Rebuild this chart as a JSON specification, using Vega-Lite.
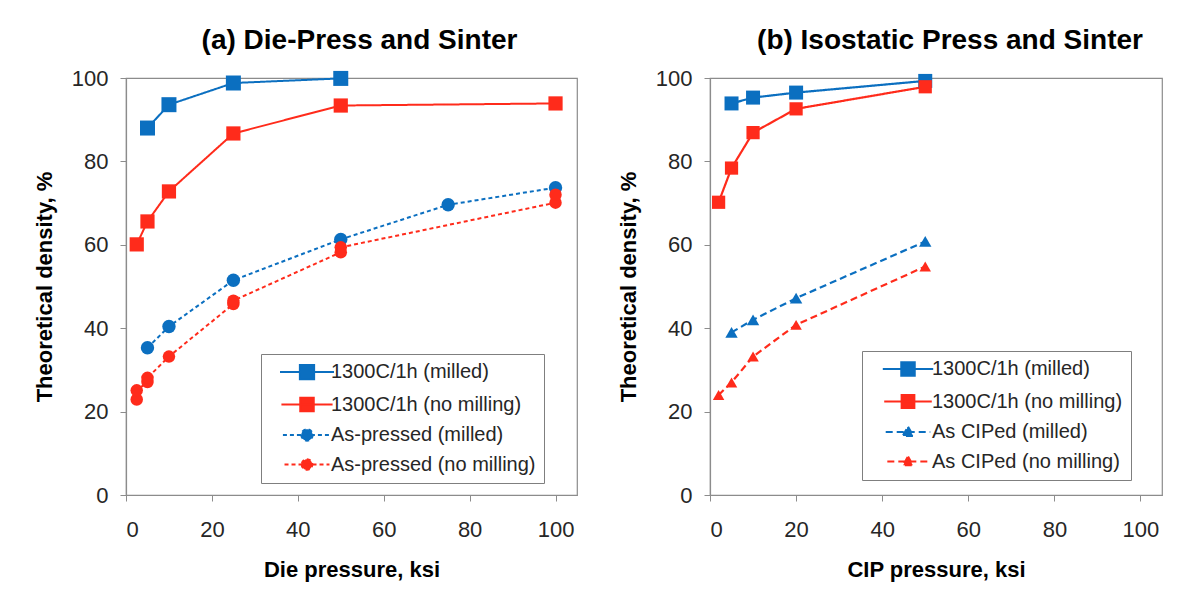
{
  "$schema": "https://vega.github.io/schema/vega-lite/v6.json",
  "background": "white",
  "padding": {"left": 32, "top": 26, "right": 5, "bottom": 5},
  "datasets": {
    "die": [
      {"series": "1300C/1h (milled)", "pressure": 5, "density": 88.0},
      {"series": "1300C/1h (milled)", "pressure": 10, "density": 93.6},
      {"series": "1300C/1h (milled)", "pressure": 25, "density": 98.8},
      {"series": "1300C/1h (milled)", "pressure": 50, "density": 99.9},
      {"series": "1300C/1h (no milling)", "pressure": 2.5, "density": 60.1},
      {"series": "1300C/1h (no milling)", "pressure": 5, "density": 65.6},
      {"series": "1300C/1h (no milling)", "pressure": 10, "density": 72.8},
      {"series": "1300C/1h (no milling)", "pressure": 25, "density": 86.7},
      {"series": "1300C/1h (no milling)", "pressure": 50, "density": 93.4},
      {"series": "1300C/1h (no milling)", "pressure": 100, "density": 93.9},
      {"series": "As-pressed (milled)", "pressure": 5, "density": 35.3},
      {"series": "As-pressed (milled)", "pressure": 10, "density": 40.4},
      {"series": "As-pressed (milled)", "pressure": 25, "density": 51.5},
      {"series": "As-pressed (milled)", "pressure": 50, "density": 61.3},
      {"series": "As-pressed (milled)", "pressure": 75, "density": 69.6},
      {"series": "As-pressed (milled)", "pressure": 100, "density": 73.7},
      {"series": "As-pressed (no milling)", "pressure": 2.5, "density": 22.9},
      {"series": "As-pressed (no milling)", "pressure": 2.5, "density": 25.1},
      {"series": "As-pressed (no milling)", "pressure": 5, "density": 27.1},
      {"series": "As-pressed (no milling)", "pressure": 5, "density": 28.1},
      {"series": "As-pressed (no milling)", "pressure": 10, "density": 33.2},
      {"series": "As-pressed (no milling)", "pressure": 25, "density": 45.8},
      {"series": "As-pressed (no milling)", "pressure": 25, "density": 46.6},
      {"series": "As-pressed (no milling)", "pressure": 50, "density": 58.2},
      {"series": "As-pressed (no milling)", "pressure": 50, "density": 59.4},
      {"series": "As-pressed (no milling)", "pressure": 100, "density": 70.1},
      {"series": "As-pressed (no milling)", "pressure": 100, "density": 72.0}
    ],
    "cip": [
      {"series": "1300C/1h (milled)", "pressure": 5, "density": 93.9},
      {"series": "1300C/1h (milled)", "pressure": 10, "density": 95.3},
      {"series": "1300C/1h (milled)", "pressure": 20, "density": 96.5},
      {"series": "1300C/1h (milled)", "pressure": 50, "density": 99.3},
      {"series": "1300C/1h (no milling)", "pressure": 2, "density": 70.2},
      {"series": "1300C/1h (no milling)", "pressure": 5, "density": 78.4},
      {"series": "1300C/1h (no milling)", "pressure": 10, "density": 86.9},
      {"series": "1300C/1h (no milling)", "pressure": 20, "density": 92.6},
      {"series": "1300C/1h (no milling)", "pressure": 50, "density": 97.9},
      {"series": "As CIPed (milled)", "pressure": 5, "density": 39.0},
      {"series": "As CIPed (milled)", "pressure": 10, "density": 42.0},
      {"series": "As CIPed (milled)", "pressure": 20, "density": 47.2},
      {"series": "As CIPed (milled)", "pressure": 50, "density": 60.8},
      {"series": "As CIPed (no milling)", "pressure": 2, "density": 24.0},
      {"series": "As CIPed (no milling)", "pressure": 5, "density": 27.0},
      {"series": "As CIPed (no milling)", "pressure": 10, "density": 33.2},
      {"series": "As CIPed (no milling)", "pressure": 20, "density": 40.8},
      {"series": "As CIPed (no milling)", "pressure": 50, "density": 54.8}
    ]
  },
  "config": {
    "font": "Liberation Sans",
    "view": {"stroke": "#8c8c8c", "strokeWidth": 1.2},
    "axis": {
      "grid": false,
      "domainColor": "#8c8c8c",
      "domainWidth": 1.2,
      "tickColor": "#8c8c8c",
      "tickSize": 6,
      "labelFont": "Liberation Sans",
      "labelFontSize": 22,
      "labelColor": "#262626",
      "titleFont": "Liberation Sans",
      "titleFontSize": 22,
      "titleFontWeight": "bold",
      "titleColor": "black"
    },
    "title": {"font": "Liberation Sans", "fontSize": 28, "fontWeight": "bold", "color": "black", "offset": 12},
    "legend": {
      "title": null,
      "padding": 8,
      "strokeColor": "#7f7f7f",
      "fillColor": "white",
      "labelFont": "Liberation Sans",
      "labelFontSize": 20,
      "labelColor": "#262626",
      "labelLimit": 400,
      "symbolSize": 144,
      "symbolStrokeWidth": 2,
      "symbolOpacity": 1,
      "symbolOffset": 28,
      "labelOffset": 14,
      "rowPadding": 9.5
    }
  },
  "spacing": 38,
  "hconcat": [
    {
      "width": 451,
      "height": 417,
      "title": {"text": "(a) Die-Press and Sinter", "dx": 8},
      "data": {"name": "die"},
      "encoding": {
        "x": {
          "field": "pressure", "type": "quantitative",
          "scale": {"domain": [0, 105], "nice": false},
          "axis": {"title": "Die pressure, ksi", "values": [0, 20, 40, 60, 80, 100], "labelPadding": 18, "titlePadding": 19}
        },
        "y": {
          "field": "density", "type": "quantitative",
          "scale": {"domain": [0, 100], "nice": false},
          "axis": {"title": "Theoretical density, %", "values": [0, 20, 40, 60, 80, 100], "labelPadding": 12, "titlePadding": 15}
        },
        "color": {
          "field": "series", "type": "nominal",
          "scale": {
            "domain": ["1300C/1h (milled)", "1300C/1h (no milling)", "As-pressed (milled)", "As-pressed (no milling)"],
            "range": ["#0B6FC0", "#FF2B1B", "#0B6FC0", "#FF2B1B"]
          },
          "legend": {"orient": "none", "legendX": 135, "legendY": 276}
        }
      },
      "layer": [
        {
          "mark": {"type": "line"},
          "encoding": {
            "order": [{"field": "pressure"}, {"field": "density"}],
            "strokeDash": {
              "field": "series", "type": "nominal",
              "scale": {
                "domain": ["1300C/1h (milled)", "1300C/1h (no milling)", "As-pressed (milled)", "As-pressed (no milling)"],
                "range": [[1, 0], [1, 0], [4, 3], [4, 3]]
              }
            },
            "strokeWidth": {
              "field": "series", "type": "nominal",
              "scale": {
                "domain": ["1300C/1h (milled)", "1300C/1h (no milling)", "As-pressed (milled)", "As-pressed (no milling)"],
                "range": [2, 2, 1.6, 1.6]
              },
              "legend": null
            }
          }
        },
        {
          "mark": {"type": "point", "filled": true, "opacity": 0},
          "encoding": {
            "shape": {
              "field": "series", "type": "nominal",
              "scale": {
                "domain": ["1300C/1h (milled)", "1300C/1h (no milling)", "As-pressed (milled)", "As-pressed (no milling)"],
                "range": [
                  "M-3.6,0H3.6M-0.95,-0.95H0.95V0.95H-0.95Z",
                  "M-3.6,0H3.6M-0.95,-0.95H0.95V0.95H-0.95Z",
                  "M-3.6,0H3.6M-0.85,0A0.85,0.85,0,1,0,0.85,0A0.85,0.85,0,1,0,-0.85,0Z",
                  "M-3.6,0H3.6M-0.85,0A0.85,0.85,0,1,0,0.85,0A0.85,0.85,0,1,0,-0.85,0Z"
                ]
              }
            }
          }
        },
        {
          "transform": [{"filter": {"field": "series", "oneOf": ["1300C/1h (milled)", "1300C/1h (no milling)"]}}],
          "mark": {"type": "point", "shape": "square", "filled": true, "opacity": 1},
          "encoding": {
            "size": {
              "field": "series", "type": "nominal",
              "scale": {
                "domain": ["1300C/1h (milled)", "1300C/1h (no milling)", "As-pressed (milled)", "As-pressed (no milling)"],
                "range": [225, 156, 100, 110]
              },
              "legend": null
            }
          }
        },
        {
          "transform": [{"filter": {"field": "series", "oneOf": ["As-pressed (milled)", "As-pressed (no milling)"]}}],
          "mark": {"type": "point", "shape": "circle", "filled": true, "opacity": 1},
          "encoding": {
            "size": {
              "field": "series", "type": "nominal",
              "scale": {
                "domain": ["1300C/1h (milled)", "1300C/1h (no milling)", "As-pressed (milled)", "As-pressed (no milling)"],
                "range": [225, 156, 100, 110]
              },
              "legend": null
            }
          }
        }
      ]
    },
    {
      "width": 452,
      "height": 417,
      "title": {"text": "(b) Isostatic Press and Sinter", "dx": 14},
      "data": {"name": "cip"},
      "encoding": {
        "x": {
          "field": "pressure", "type": "quantitative",
          "scale": {"domain": [0, 105], "nice": false},
          "axis": {"title": "CIP pressure, ksi", "values": [0, 20, 40, 60, 80, 100], "labelPadding": 18, "titlePadding": 19}
        },
        "y": {
          "field": "density", "type": "quantitative",
          "scale": {"domain": [0, 100], "nice": false},
          "axis": {"title": "Theoretical density, %", "values": [0, 20, 40, 60, 80, 100], "labelPadding": 12, "titlePadding": 15}
        },
        "color": {
          "field": "series", "type": "nominal",
          "scale": {
            "domain": ["1300C/1h (milled)", "1300C/1h (no milling)", "As CIPed (milled)", "As CIPed (no milling)"],
            "range": ["#0B6FC0", "#FF2B1B", "#0B6FC0", "#FF2B1B"]
          },
          "legend": {"orient": "none", "legendX": 152, "legendY": 273}
        }
      },
      "layer": [
        {
          "mark": {"type": "line"},
          "encoding": {
            "order": [{"field": "pressure"}, {"field": "density"}],
            "strokeDash": {
              "field": "series", "type": "nominal",
              "scale": {
                "domain": ["1300C/1h (milled)", "1300C/1h (no milling)", "As CIPed (milled)", "As CIPed (no milling)"],
                "range": [[1, 0], [1, 0], [7, 4], [7, 4]]
              }
            },
            "strokeWidth": {
              "field": "series", "type": "nominal",
              "scale": {
                "domain": ["1300C/1h (milled)", "1300C/1h (no milling)", "As CIPed (milled)", "As CIPed (no milling)"],
                "range": [2.2, 2.2, 2.4, 2.4]
              },
              "legend": null
            }
          }
        },
        {
          "mark": {"type": "point", "filled": true, "opacity": 0},
          "encoding": {
            "shape": {
              "field": "series", "type": "nominal",
              "scale": {
                "domain": ["1300C/1h (milled)", "1300C/1h (no milling)", "As CIPed (milled)", "As CIPed (no milling)"],
                "range": [
                  "M-3.6,0H3.6M-0.95,-0.95H0.95V0.95H-0.95Z",
                  "M-3.6,0H3.6M-0.95,-0.95H0.95V0.95H-0.95Z",
                  "M-3.6,0H3.6M0,-0.85L0.85,0.65H-0.85Z",
                  "M-3.6,0H3.6M0,-0.85L0.85,0.65H-0.85Z"
                ]
              }
            }
          }
        },
        {
          "transform": [{"filter": {"field": "series", "oneOf": ["1300C/1h (milled)", "1300C/1h (no milling)"]}}],
          "mark": {"type": "point", "shape": "square", "filled": true, "opacity": 1},
          "encoding": {
            "size": {
              "field": "series", "type": "nominal",
              "scale": {
                "domain": ["1300C/1h (milled)", "1300C/1h (no milling)", "As CIPed (milled)", "As CIPed (no milling)"],
                "range": [196, 132, 110, 110]
              },
              "legend": null
            }
          }
        },
        {
          "transform": [{"filter": {"field": "series", "oneOf": ["As CIPed (milled)", "As CIPed (no milling)"]}}],
          "mark": {"type": "point", "shape": "triangle-up", "filled": true, "opacity": 1},
          "encoding": {
            "size": {
              "field": "series", "type": "nominal",
              "scale": {
                "domain": ["1300C/1h (milled)", "1300C/1h (no milling)", "As CIPed (milled)", "As CIPed (no milling)"],
                "range": [196, 132, 110, 110]
              },
              "legend": null
            }
          }
        }
      ]
    }
  ],
  "resolve": {
    "scale": {"color": "independent", "strokeDash": "independent", "shape": "independent", "size": "independent", "strokeWidth": "independent"},
    "legend": {"color": "independent", "strokeDash": "independent", "shape": "independent"}
  }
}
